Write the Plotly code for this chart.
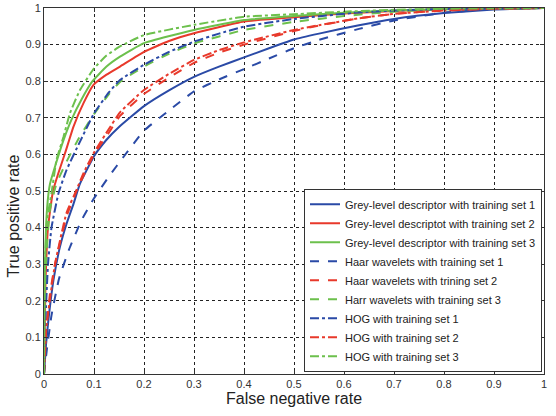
import plotly.graph_objects as go

# ---- data ----
grey1_x = [0, 0.004, 0.009, 0.019, 0.032, 0.045, 0.059, 0.072, 0.1, 0.125, 0.15, 0.2, 0.25, 0.3, 0.35, 0.4, 0.45, 0.5, 0.55, 0.63, 0.7, 0.8, 0.9, 1.0]
grey1_y = [0, 0.08, 0.15, 0.257, 0.348, 0.41, 0.465, 0.52, 0.595, 0.64, 0.675, 0.732, 0.775, 0.812, 0.84, 0.865, 0.89, 0.914, 0.93, 0.953, 0.97, 0.986, 0.996, 1.0]

grey2_x = [0, 0.003, 0.008, 0.018, 0.029, 0.042, 0.059, 0.079, 0.099, 0.125, 0.152, 0.2, 0.25, 0.3, 0.4, 0.5, 0.6, 0.7, 0.8, 1.0]
grey2_y = [0, 0.25, 0.4, 0.5, 0.55, 0.603, 0.676, 0.74, 0.79, 0.818, 0.84, 0.88, 0.91, 0.931, 0.963, 0.975, 0.985, 0.992, 0.997, 1.0]

grey3_x = [0, 0.002, 0.006, 0.012, 0.025, 0.038, 0.055, 0.075, 0.097, 0.125, 0.152, 0.2, 0.3, 0.4, 0.5, 0.6, 0.7, 0.8, 1.0]
grey3_y = [0, 0.3, 0.45, 0.52, 0.58, 0.635, 0.695, 0.75, 0.8, 0.84, 0.867, 0.904, 0.94, 0.967, 0.978, 0.987, 0.993, 0.997, 1.0]

haar1_x = [0, 0.006, 0.015, 0.03, 0.05, 0.075, 0.1, 0.13, 0.16, 0.2, 0.25, 0.3, 0.35, 0.4, 0.45, 0.5, 0.55, 0.63, 0.7, 0.8, 0.9, 1.0]
haar1_y = [0, 0.07, 0.16, 0.26, 0.34, 0.42, 0.48, 0.54, 0.595, 0.665, 0.72, 0.772, 0.805, 0.833, 0.862, 0.89, 0.913, 0.943, 0.966, 0.987, 0.997, 1.0]

haar2_x = [0, 0.004, 0.012, 0.022, 0.045, 0.065, 0.08, 0.1, 0.13, 0.152, 0.2, 0.25, 0.3, 0.35, 0.4, 0.5, 0.55, 0.63, 0.7, 0.8, 0.9, 1.0]
haar2_y = [0, 0.12, 0.22, 0.3, 0.43, 0.5, 0.545, 0.6, 0.66, 0.705, 0.765, 0.81, 0.85, 0.878, 0.9, 0.937, 0.952, 0.972, 0.984, 0.993, 0.998, 1.0]

harr3_x = [0, 0.002, 0.006, 0.012, 0.025, 0.045, 0.07, 0.1, 0.13, 0.152, 0.2, 0.25, 0.3, 0.4, 0.5, 0.6, 0.7, 0.8, 1.0]
harr3_y = [0, 0.2, 0.35, 0.45, 0.52, 0.58, 0.645, 0.71, 0.765, 0.798, 0.84, 0.875, 0.903, 0.94, 0.962, 0.978, 0.99, 0.996, 1.0]

hog1_x = [0, 0.003, 0.008, 0.015, 0.029, 0.045, 0.072, 0.1, 0.13, 0.152, 0.2, 0.25, 0.3, 0.35, 0.4, 0.5, 0.63, 0.7, 0.8, 1.0]
hog1_y = [0, 0.15, 0.3, 0.4, 0.494, 0.557, 0.635, 0.712, 0.77, 0.803, 0.845, 0.88, 0.908, 0.93, 0.949, 0.97, 0.988, 0.993, 0.997, 1.0]

hog2_x = [0, 0.005, 0.022, 0.045, 0.065, 0.079, 0.1, 0.13, 0.152, 0.2, 0.25, 0.3, 0.35, 0.4, 0.5, 0.55, 0.63, 0.7, 0.8, 0.9, 1.0]
hog2_y = [0, 0.13, 0.3, 0.44, 0.503, 0.549, 0.605, 0.67, 0.715, 0.776, 0.82, 0.858, 0.885, 0.906, 0.94, 0.953, 0.972, 0.984, 0.993, 0.998, 1.0]

hog3_x = [0, 0.002, 0.006, 0.015, 0.025, 0.039, 0.052, 0.072, 0.1, 0.125, 0.152, 0.2, 0.3, 0.4, 0.5, 0.6, 0.7, 0.8, 1.0]
hog3_y = [0, 0.3, 0.42, 0.494, 0.585, 0.648, 0.713, 0.776, 0.835, 0.87, 0.895, 0.926, 0.954, 0.976, 0.983, 0.99, 0.995, 0.998, 1.0]

labels = [
    "Grey-level descriptor with training set 1",
    "Grey-level descriptot with training set 2",
    "Grey-level descriptor with training set 3",
    "Haar wavelets with training set 1",
    "Haar wavelets with trining set 2",
    "Harr wavelets with training set 3",
    "HOG with training set 1",
    "HOG with training set 2",
    "HOG with training set 3",
]

tick_vals = [0, 0.1, 0.2, 0.3, 0.4, 0.5, 0.6, 0.7, 0.8, 0.9, 1]
tick_text = ["0", "0.1", "0.2", "0.3", "0.4", "0.5", "0.6", "0.7", "0.8", "0.9", "1"]

x_title = "False negative rate"
y_title = "True positive rate"

BLUE = "#2a4aa6"
RED = "#e8392b"
GREEN = "#6cc04c"

series = [
    (grey1_x, grey1_y, BLUE, "solid"),
    (grey2_x, grey2_y, RED, "solid"),
    (grey3_x, grey3_y, GREEN, "solid"),
    (haar1_x, haar1_y, BLUE, "dash"),
    (haar2_x, haar2_y, RED, "dash"),
    (harr3_x, harr3_y, GREEN, "dash"),
    (hog1_x, hog1_y, BLUE, "dashdot"),
    (hog2_x, hog2_y, RED, "dashdot"),
    (hog3_x, hog3_y, GREEN, "dashdot"),
]

fig = go.Figure()
for (xs, ys, col, dash), name in zip(series, labels):
    fig.add_trace(go.Scatter(
        x=xs, y=ys, mode="lines", name=name,
        line=dict(color=col, width=2, dash=dash, shape="spline", smoothing=0.4),
    ))

axis_common = dict(
    range=[0, 1], tickvals=tick_vals, ticktext=tick_text,
    showgrid=True, gridcolor="#222222", griddash="dot", gridwidth=1,
    showline=True, linecolor="#333333", linewidth=1, mirror="ticks",
    ticks="inside", ticklen=4, tickcolor="#333333",
    zeroline=False, automargin=False,
    tickfont=dict(size=11, color="#333333", family="Liberation Sans, Arial"),
)

fig.update_layout(
    width=556, height=416,
    margin=dict(l=44, r=12, t=8, b=42),
    paper_bgcolor="white", plot_bgcolor="white",
    font=dict(family="Liberation Sans, Arial", color="#222222"),
    xaxis=dict(axis_common),
    yaxis=dict(axis_common),
    legend=dict(
        x=0.996, y=0.006, xanchor="right", yanchor="bottom",
        bgcolor="white", bordercolor="#333333", borderwidth=1,
        font=dict(size=11, family="Liberation Sans, Arial", color="#222222"),
        tracegroupgap=0, itemwidth=30,
    ),
    annotations=[
        dict(text=x_title, xref="paper", yref="paper", x=0.5, y=-0.068,
             xanchor="center", yanchor="middle", showarrow=False,
             font=dict(size=16, color="#222222")),
        dict(text=y_title, xref="paper", yref="paper", x=-0.06, y=0.43,
             xanchor="center", yanchor="middle", showarrow=False, textangle=-90,
             font=dict(size=16, color="#222222")),
    ],
)

fig.write_html("out.html")
